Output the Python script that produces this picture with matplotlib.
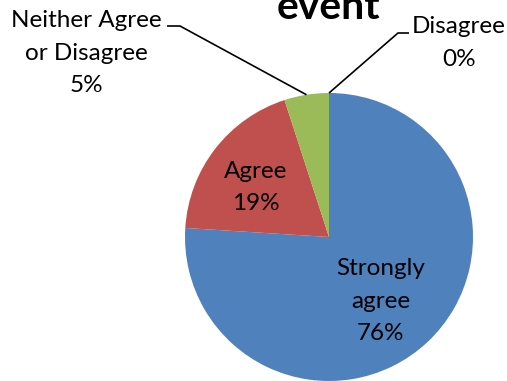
import matplotlib
matplotlib.use("Agg")
import matplotlib.pyplot as plt
import numpy as np

categories = ["Strongly agree", "Agree", "Neither Agree or Disagree", "Disagree"]
label_lines = [["Strongly", "agree"], ["Agree"], ["Neither Agree", "or Disagree"], ["Disagree"]]
values = [76, 19, 5, 0]
colors = ["#4F81BD", "#C0504D", "#9BBB59", "#8064A2"]
title_text = "event"

W, H = 507, 381
FONT = "Lato"

fig = plt.figure(figsize=(W / 100, H / 100), dpi=100)
ax = fig.add_axes([0, 0, 1, 1])


def Y(y):
    # pixel row (from top) to axis coordinate
    return H - y


cx, cy, r = 329, 237, 144
wedges, _ = ax.pie(values, colors=colors, startangle=90, counterclock=False,
                   center=(cx, Y(cy)), radius=r, frame=True,
                   wedgeprops=dict(linewidth=0))
ax.set_xlim(0, W)
ax.set_ylim(0, H)
ax.set_aspect("equal")
ax.axis("off")

# label blocks: x center, baseline of first line (pixel rows)
label_pos = [(381, 275), (256, 178), (86, 27), (459, 33)]
step = 32.5
fs = 17.5
for lines, v, (lx, ly) in zip(label_lines, values, label_pos):
    texts = lines + [f"{v:.0f}%"]
    for i, t in enumerate(texts):
        ax.text(lx, Y(ly + i * step), t, ha="center", va="baseline",
                fontsize=fs, family=FONT, color="black")


# leader lines for the two small slices
def wedge_edge_point(idx):
    w = wedges[idx]
    mid = np.deg2rad((w.theta1 + w.theta2) / 2)
    return cx + r * np.cos(mid), Y(cy) + r * np.sin(mid)


px, py = wedge_edge_point(2)
ax.plot([167, 180, px], [Y(26), Y(26), py], color="black", lw=1.2,
        solid_capstyle="butt")
px, py = wedge_edge_point(3)
ax.plot([409, 398, px], [Y(33), Y(33), py], color="black", lw=1.2,
        solid_capstyle="butt")

ax.text(328, Y(19), title_text, ha="center", va="baseline", fontsize=29.5,
        fontweight="bold", family=FONT, color="black")

fig.savefig("out.png", dpi=100)
